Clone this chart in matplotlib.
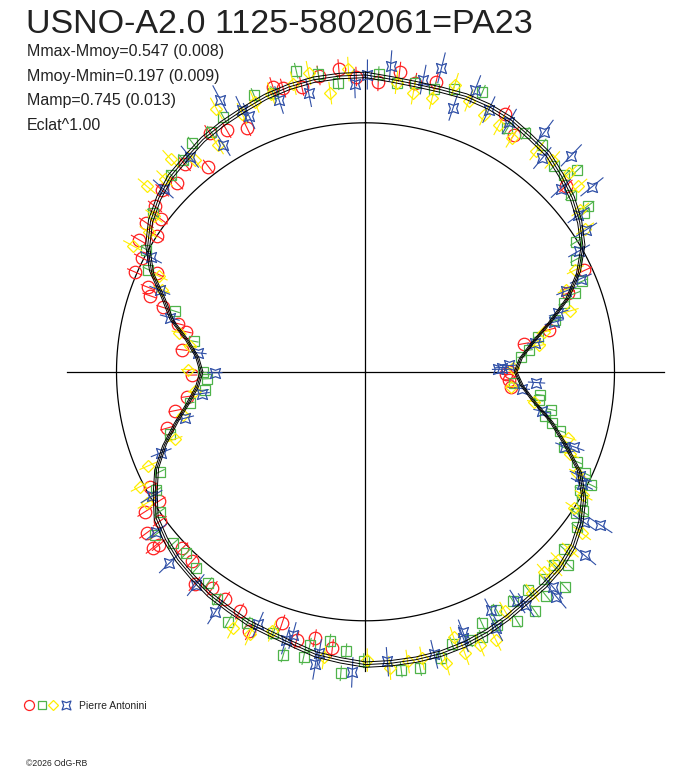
import numpy as np
import matplotlib
matplotlib.use('Agg')
import matplotlib.pyplot as plt
from matplotlib.path import Path

plt.rcParams['font.family'] = ['Liberation Sans', 'DejaVu Sans']

TITLE = 'USNO-A2.0 1125-5802061=PA23'
INFO = ['Mmax-Mmoy=0.547 (0.008)',
        'Mmoy-Mmin=0.197 (0.009)',
        'Mamp=0.745 (0.013)',
        'Eclat^1.00']
OBSERVER = 'Pierre Antonini'
COPYRIGHT = '\u00a92026 OdG-RB'

# courbe ajustee : ecart en magnitude au flux moyen, tous les 5 degres de phase
FIT_PHASE = np.arange(72) / 72.0
FIT_DMAG = [-0.191, -0.179, -0.173, -0.173, -0.177, -0.175, -0.169, -0.154, -0.143, -0.116,
            -0.088, -0.053, -0.009, 0.063, 0.159, 0.288, 0.414, 0.508, 0.550, 0.501,
            0.408, 0.282, 0.172, 0.058, -0.013, -0.059, -0.092, -0.112, -0.122, -0.129,
            -0.143, -0.156, -0.166, -0.172, -0.174, -0.175, -0.176, -0.164, -0.154, -0.135,
            -0.122, -0.116, -0.104, -0.096, -0.082, -0.070, -0.051, -0.028, 0.027, 0.084,
            0.165, 0.260, 0.352, 0.421, 0.453, 0.421, 0.346, 0.235, 0.159, 0.058,
            -0.011, -0.057, -0.088, -0.112, -0.124, -0.141, -0.152, -0.162, -0.175, -0.184,
            -0.190, -0.191]
FIT_ERR = 0.010

# serie 1 (cercles rouges)
RED_PHASE = [0.007, 0.018, 0.027, 0.038, 0.079, 0.089, 0.131, 0.181, 0.191, 0.214,
             0.222, 0.250, 0.253, 0.259, 0.267, 0.519, 0.530, 0.540, 0.551, 0.567,
             0.577, 0.588, 0.598, 0.608, 0.618, 0.628, 0.639, 0.640, 0.649, 0.650,
             0.660, 0.661, 0.672, 0.706, 0.718, 0.728, 0.747, 0.769, 0.785, 0.790,
             0.799, 0.804, 0.809, 0.815, 0.820, 0.825, 0.834, 0.842, 0.845, 0.852,
             0.856, 0.866, 0.875, 0.886, 0.896, 0.908, 0.917, 0.928, 0.950, 0.955,
             0.965, 0.975, 0.986, 0.995]
RED_DMAG = [-0.167, -0.209, -0.178, -0.197, -0.177, -0.127, -0.100, 0.034, 0.148, 0.305,
            0.476, 0.588, 0.621, 0.597, 0.578, -0.121, -0.092, -0.114, -0.066, -0.144,
            -0.090, -0.077, -0.068, -0.097, -0.033, -0.024, -0.086, -0.111, -0.095, -0.022,
            -0.052, 0.022, 0.022, 0.203, 0.268, 0.352, 0.390, 0.322, 0.329, 0.274,
            0.173, 0.092, 0.071, -0.010, 0.082, -0.010, -0.058, 0.000, -0.067, -0.027,
            -0.078, -0.097, -0.075, -0.109, -0.040, -0.146, -0.123, -0.092, -0.201, -0.185,
            -0.174, -0.202, -0.215, -0.185]
RED_ERR = 0.036

# serie 2 (carres verts)
GREEN_PHASE = [0.007, 0.017, 0.027, 0.038, 0.048, 0.063, 0.084, 0.094, 0.105, 0.118,
               0.126, 0.129, 0.137, 0.148, 0.150, 0.162, 0.172, 0.187, 0.193, 0.197,
               0.208, 0.218, 0.229, 0.235, 0.262, 0.271, 0.276, 0.282, 0.288, 0.293,
               0.297, 0.308, 0.314, 0.319, 0.324, 0.330, 0.335, 0.341, 0.344, 0.351,
               0.366, 0.371, 0.377, 0.381, 0.387, 0.392, 0.398, 0.402, 0.409, 0.413,
               0.420, 0.424, 0.431, 0.434, 0.441, 0.451, 0.459, 0.471, 0.481, 0.501,
               0.511, 0.513, 0.521, 0.532, 0.534, 0.545, 0.554, 0.570, 0.580, 0.592,
               0.602, 0.613, 0.624, 0.634, 0.645, 0.655, 0.668, 0.678, 0.701, 0.722,
               0.732, 0.743, 0.750, 0.778, 0.799, 0.820, 0.831, 0.852, 0.876, 0.887,
               0.897, 0.909, 0.919, 0.939, 0.949, 0.964, 0.975, 0.985]
GREEN_DMAG = [-0.195, -0.169, -0.178, -0.169, -0.190, -0.213, -0.134, -0.154, -0.156, -0.126,
              -0.125, -0.174, -0.090, -0.120, -0.087, 0.009, 0.048, 0.063, 0.115, 0.187,
              0.256, 0.377, 0.450, 0.504, 0.561, 0.375, 0.379, 0.296, 0.323, 0.274,
              0.218, 0.173, 0.087, 0.031, -0.016, 0.018, -0.011, -0.039, -0.017, -0.057,
              -0.073, -0.126, -0.090, -0.178, -0.103, -0.157, -0.097, -0.177, -0.099, -0.172,
              -0.095, -0.147, -0.117, -0.164, -0.157, -0.148, -0.187, -0.207, -0.202, -0.161,
              -0.125, -0.211, -0.093, -0.122, -0.174, -0.183, -0.115, -0.119, -0.147, -0.095,
              -0.061, -0.044, -0.027, -0.036, -0.074, 0.000, 0.038, 0.091, 0.209, 0.363,
              0.470, 0.487, 0.465, 0.389, 0.238, 0.040, -0.008, -0.069, -0.113, -0.126,
              -0.154, -0.146, -0.172, -0.195, -0.178, -0.234, -0.208, -0.167]
GREEN_ERR = 0.028

# serie 3 (losanges jaunes)
YELLOW_PHASE = [0.017, 0.027, 0.038, 0.048, 0.058, 0.069, 0.079, 0.089, 0.105, 0.115,
                0.127, 0.136, 0.147, 0.158, 0.178, 0.188, 0.204, 0.215, 0.226, 0.246,
                0.266, 0.278, 0.300, 0.311, 0.321, 0.332, 0.342, 0.352, 0.364, 0.373,
                0.378, 0.384, 0.397, 0.416, 0.428, 0.437, 0.446, 0.449, 0.457, 0.469,
                0.477, 0.487, 0.499, 0.523, 0.555, 0.566, 0.576, 0.664, 0.675, 0.685,
                0.696, 0.713, 0.732, 0.752, 0.773, 0.783, 0.811, 0.819, 0.829, 0.841,
                0.851, 0.862, 0.872, 0.882, 0.892, 0.908, 0.918, 0.929, 0.938, 0.948,
                0.961, 0.970, 0.980, 0.991]
YELLOW_DMAG = [-0.169, -0.137, -0.133, -0.204, -0.166, -0.138, -0.129, -0.110, -0.123, -0.136,
               -0.145, -0.136, -0.084, -0.055, 0.071, 0.152, 0.167, 0.337, 0.381, 0.565,
               0.576, 0.409, 0.170, 0.130, 0.063, -0.006, 0.001, -0.088, -0.093, -0.086,
               -0.097, -0.081, -0.115, -0.117, -0.194, -0.188, -0.197, -0.127, -0.211, -0.172,
               -0.175, -0.191, -0.158, -0.160, -0.109, -0.154, -0.159, -0.026, -0.017, 0.056,
               0.226, 0.310, 0.404, 0.369, 0.369, 0.292, 0.136, 0.100, -0.066, -0.038,
               -0.057, -0.153, -0.122, -0.160, -0.096, -0.090, -0.211, -0.150, -0.172, -0.178,
               -0.192, -0.216, -0.130, -0.213]
YELLOW_ERR = 0.044

# serie 4 (etoiles bleues)
BLUE_PHASE = [0.001, 0.013, 0.031, 0.039, 0.051, 0.059, 0.070, 0.083, 0.102, 0.110,
              0.121, 0.130, 0.141, 0.149, 0.159, 0.168, 0.185, 0.189, 0.203, 0.209,
              0.223, 0.243, 0.245, 0.247, 0.260, 0.267, 0.285, 0.305, 0.307, 0.322,
              0.326, 0.342, 0.346, 0.361, 0.386, 0.388, 0.404, 0.407, 0.423, 0.425,
              0.443, 0.444, 0.462, 0.488, 0.507, 0.526, 0.527, 0.543, 0.546, 0.564,
              0.589, 0.607, 0.627, 0.646, 0.666, 0.690, 0.710, 0.729, 0.749, 0.768,
              0.793, 0.810, 0.828, 0.867, 0.891, 0.911, 0.922, 0.930, 0.932, 0.951,
              0.968, 0.994]
BLUE_DMAG = [-0.191, -0.226, -0.193, -0.248, -0.121, -0.211, -0.163, -0.159, -0.198, -0.116,
             -0.196, -0.078, -0.173, -0.064, -0.054, 0.017, 0.066, 0.152, 0.229, 0.266,
             0.400, 0.599, 0.653, 0.681, 0.407, 0.499, 0.347, 0.129, 0.169, 0.045,
             0.025, -0.128, -0.067, -0.150, -0.150, -0.184, -0.139, -0.108, -0.086, -0.155,
             -0.121, -0.142, -0.167, -0.167, -0.204, -0.146, -0.191, -0.101, -0.128, -0.106,
             -0.139, -0.097, -0.104, -0.061, 0.007, 0.137, 0.315, 0.445, 0.547, 0.426,
             0.223, 0.130, 0.027, -0.097, -0.117, -0.080, -0.233, -0.164, -0.130, -0.146,
             -0.144, -0.158]
BLUE_ERR = 0.055

# marqueur "etoile" a 4 branches (carre a cotes concaves)
STAR = Path([(-0.5, -0.5), (0.0, -0.32), (0.5, -0.5), (0.32, 0.0), (0.5, 0.5),
             (0.0, 0.32), (-0.5, 0.5), (-0.32, 0.0), (-0.5, -0.5)], closed=True)

RED = '#ff2020'
GREEN = '#4fb34a'
YELLOW = '#ffee00'
BLUE = '#2f4fa6'


def flux(dmag):
    # rayon = eclat^1, normalise au flux moyen
    return 10 ** (-0.4 * np.asarray(dmag, dtype=float))


fig = plt.figure(figsize=(6.88, 7.68), dpi=100)

ax = fig.add_axes([0.07885, 0.11061, 0.90480, 0.81055], projection='polar')
ax.set_theta_zero_location('N')
ax.set_theta_direction(-1)
ax.set_rlim(0, 1.25)
ax.axis('off')

# cercle du flux moyen et axes
t = np.linspace(0, 2 * np.pi, 721)
ax.plot(t, np.ones_like(t), color='black', lw=0.9, clip_on=False)
for a in (0, np.pi / 2, np.pi, 3 * np.pi / 2):
    ax.plot([a, a], [0, 1.2], color='black', lw=0.9, clip_on=False)

series = [
    (RED_PHASE, RED_DMAG, RED_ERR, RED, 'o', 9.0),
    (GREEN_PHASE, GREEN_DMAG, GREEN_ERR, GREEN, 's', 7.0),
    (YELLOW_PHASE, YELLOW_DMAG, YELLOW_ERR, YELLOW, 'D', 6.6),
    (BLUE_PHASE, BLUE_DMAG, BLUE_ERR, BLUE, STAR, 7.2),
]
for ph, dm, err, col, mk, ms in series:
    th = 2 * np.pi * np.asarray(ph)
    dm = np.asarray(dm)
    r = flux(dm)
    lo = r - flux(dm + err)
    hi = flux(dm - err) - r
    eb = ax.errorbar(th, r, yerr=[lo, hi], fmt='none', ecolor=col, elinewidth=0.8,
                     capsize=0, zorder=3)
    for c in eb.lines[2]:
        c.set_clip_on(False)
    ax.plot(th, r, ls='none', marker=mk, ms=ms, mfc='none', mec=col, mew=0.9,
            zorder=3, clip_on=False)

# courbe ajustee et son incertitude
th_fit = 2 * np.pi * np.append(FIT_PHASE, 1.0)
dm_fit = np.append(FIT_DMAG, FIT_DMAG[0])
for off in (-FIT_ERR, 0.0, FIT_ERR):
    ax.plot(th_fit, flux(dm_fit + off), color='black', lw=0.7, zorder=5, clip_on=False)

# textes et legende, en pixels
ov = fig.add_axes([0, 0, 1, 1])
ov.set_xlim(0, 688)
ov.set_ylim(768, 0)
ov.axis('off')

ov.text(26, 33, TITLE, fontsize=24.5, color='#222222', va='baseline')
for i, line in enumerate(INFO):
    ov.text(27, 56 + 24.6 * i, line, fontsize=11.5, color='#222222', va='baseline')

keys = [(RED, 'o', 7.2), (GREEN, 's', 5.8), (YELLOW, 'D', 5.4), (BLUE, STAR, 6.4)]
for (col, mk, ms), x in zip(keys, [29, 41.5, 53, 66]):
    ov.plot([x], [704.5], ls='none', marker=mk, ms=ms, mfc='none', mec=col, mew=0.9)
ov.text(79, 709, OBSERVER, fontsize=7.5, color='#222222', va='baseline')
ov.text(26, 766, COPYRIGHT, fontsize=6.2, color='#222222', va='baseline')

fig.savefig('out.png', dpi=100)
